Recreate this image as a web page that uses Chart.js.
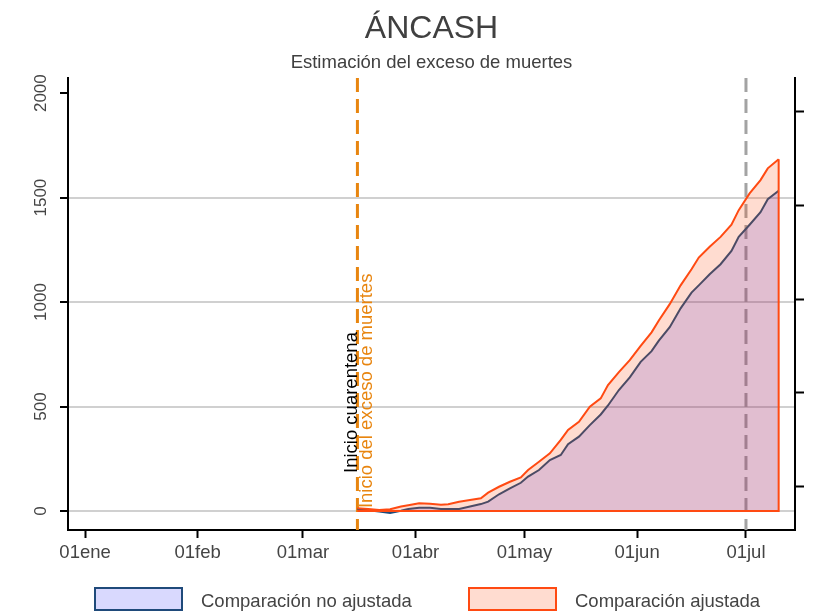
<!DOCTYPE html>
<html>
<head>
<meta charset="utf-8">
<script src="https://cdn.jsdelivr.net/npm/chart.js@4.4.1/dist/chart.umd.min.js"></script>
<style>
  html, body { margin: 0; padding: 0; background: #fff; }
  canvas { display: block; }
</style>
</head>
<body>
<canvas id="myChart" width="816" height="611"></canvas>
<script>
// day of year 2020 (0 = 1 Jan)
const days = [75, 78, 81, 84, 87, 89, 92, 95, 98, 100, 103, 106, 109, 111, 114, 117, 120, 122, 125, 128,
  131, 133, 136, 139, 142, 144, 147, 150, 153, 156, 158, 161, 164, 167, 169, 172, 175, 178, 180, 183,
  186, 188, 191];
const noAjustada = [10, 4, -2, -9, 1, 10, 15, 15, 10, 9, 10, 21, 33, 45, 80, 108, 135, 165, 196, 244,
  268, 320, 356, 411, 462, 505, 579, 640, 714, 765, 815, 880, 970, 1045, 1080, 1133, 1181, 1245, 1312, 1370,
  1430, 1492, 1533];
const ajustada = [13, 10, 5, 8, 21, 27, 37, 35, 30, 32, 44, 53, 61, 88, 116, 140, 161, 196, 236, 276,
  340, 388, 427, 499, 539, 603, 665, 722, 790, 855, 912, 990, 1080, 1157, 1213, 1265, 1312, 1370, 1440, 1520,
  1584, 1640, 1684];
const xTickDays = [0, 31, 60, 91, 121, 152, 182];
const xTickLabels = ['01ene', '01feb', '01mar', '01abr', '01may', '01jun', '01jul'];
const yTicks = [0, 500, 1000, 1500, 2000];
const rightTicks = [0, 1, 2, 3, 4];
const quarantineDay = 75;
const cutoffDay = 182;

const FONT = "'Liberation Sans', Arial, Helvetica, sans-serif";
Chart.defaults.font.family = FONT;

const navy = '#1f4a7a';
const red = '#ff4a12';
const ORANGE = '#e8850f';

const toPts = (vals) => days.map((d, i) => ({ x: d, y: vals[i] }));
const last = days.length - 1;

const decor = {
  id: 'decor',
  beforeDatasetsDraw(chart) {
    const { ctx, chartArea: a, scales: { x } } = chart;
    ctx.save();
    ctx.lineWidth = 3;
    ctx.setLineDash([14, 7]);
    [[quarantineDay, ORANGE], [cutoffDay, '#a3a3a3']].forEach(([d, c]) => {
      const px = x.getPixelForValue(d);
      ctx.strokeStyle = c;
      ctx.beginPath();
      ctx.moveTo(px, a.top);
      ctx.lineTo(px, a.bottom);
      ctx.stroke();
    });
    ctx.restore();
  },
  afterDraw(chart) {
    const { ctx, scales: { x, y } } = chart;
    ctx.save();
    // rotated y tick labels
    ctx.fillStyle = '#444';
    ctx.font = '17px ' + FONT;
    ctx.textAlign = 'center';
    ctx.textBaseline = 'middle';
    yTicks.forEach(v => {
      ctx.save();
      ctx.translate(41, y.getPixelForValue(v));
      ctx.rotate(-Math.PI / 2);
      ctx.fillText(String(v), 0, 0);
      ctx.restore();
    });

    // vertical notes
    const qx = x.getPixelForValue(quarantineDay);
    ctx.font = '18.5px ' + FONT;
    ctx.textAlign = 'left';
    [['Inicio cuarentena', '#000', qx - 6, 182], ['Inicio del exceso de muertes', ORANGE, qx + 9, 14]].forEach(([t, c, px, v]) => {
      ctx.save();
      ctx.translate(px, y.getPixelForValue(v));
      ctx.rotate(-Math.PI / 2);
      ctx.fillStyle = c;
      ctx.fillText(t, 0, 0);
      ctx.restore();
    });

    // legend
    ctx.setLineDash([]);
    [[0, 95], [1, 469]].forEach(([i, lx]) => {
      const ds = chart.data.datasets[i];
      ctx.fillStyle = ds.backgroundColor;
      ctx.fillRect(lx, 588, 87, 22);
      ctx.strokeStyle = ds.borderColor;
      ctx.lineWidth = 2;
      ctx.strokeRect(lx, 588, 87, 22);
      ctx.fillStyle = '#444';
      ctx.font = '18.5px ' + FONT;
      ctx.textBaseline = 'middle';
      ctx.fillText(ds.label, lx + 106, 601.5);
    });
    ctx.restore();
  }
};

new Chart(document.getElementById('myChart').getContext('2d'), {
  type: 'line',
  data: {
    datasets: [
      {
        label: 'Comparación no ajustada',
        data: toPts(noAjustada),
        yAxisID: 'y',
        borderColor: navy,
        backgroundColor: 'rgba(20,20,250,0.16)',
        borderWidth: 2,
        pointRadius: 0,
        fill: 'origin',
        order: 2
      },
      {
        label: 'Comparación ajustada',
        data: toPts(ajustada),
        yAxisID: 'y',
        borderColor: red,
        backgroundColor: 'rgba(255,80,20,0.2)',
        borderWidth: 2,
        pointRadius: 0,
        fill: 'origin',
        order: 1
      },
      {
        label: 'outline',
        data: [
          { x: days[last], y: ajustada[last] },
          { x: days[last], y: 0 },
          { x: days[0], y: 0 }
        ],
        yAxisID: 'y',
        borderColor: red,
        borderWidth: 2,
        pointRadius: 0,
        fill: false,
        order: 0
      }
    ]
  },
  options: {
    responsive: false,
    animation: false,
    devicePixelRatio: 1,
    layout: { padding: { left: 47, right: 0, top: 0, bottom: 0 } },
    plugins: {
      legend: { display: false },
      tooltip: { enabled: false },
      title: {
        display: true,
        text: 'ÁNCASH',
        color: '#404040',
        font: { size: 32, weight: 'normal' },
        padding: { top: 9.5, bottom: 0 }
      },
      subtitle: {
        display: true,
        text: 'Estimación del exceso de muertes',
        color: '#404040',
        font: { size: 18.5, weight: 'normal' },
        padding: { top: 4, bottom: 4 }
      }
    },
    scales: {
      x: {
        type: 'linear',
        min: -4.7,
        max: 195.5,
        afterBuildTicks: s => { s.ticks = xTickDays.map(v => ({ value: v })); },
        ticks: {
          callback: (v, i) => xTickLabels[i],
          color: '#444',
          font: { size: 18.5 },
          padding: 4,
          maxRotation: 0,
          autoSkip: false
        },
        grid: { drawOnChartArea: false, tickLength: 8, tickColor: '#000', tickWidth: 2 },
        border: { color: '#000', width: 2 },
        afterFit: s => { s.height = 81; }
      },
      y: {
        min: -91,
        max: 2072,
        afterBuildTicks: s => { s.ticks = yTicks.map(v => ({ value: v })); },
        ticks: { display: false },
        grid: {
          color: c => (c.tick && c.tick.value === 2000) ? 'rgba(0,0,0,0)' : '#d0d0d0',
          lineWidth: 2,
          tickLength: 8,
          tickColor: '#000',
          tickWidth: 2
        },
        border: { color: '#000', width: 2 },
        afterFit: s => { s.width = 21; }
      },
      y2: {
        position: 'right',
        min: -0.462,
        max: 4.36,
        afterBuildTicks: s => { s.ticks = rightTicks.map(v => ({ value: v })); },
        ticks: { display: false },
        grid: { drawOnChartArea: false, tickLength: 9, tickColor: '#000', tickWidth: 2 },
        border: { color: '#000', width: 2 },
        afterFit: s => { s.width = 21; }
      }
    }
  },
  plugins: [decor]
});
</script>
</body>
</html>
